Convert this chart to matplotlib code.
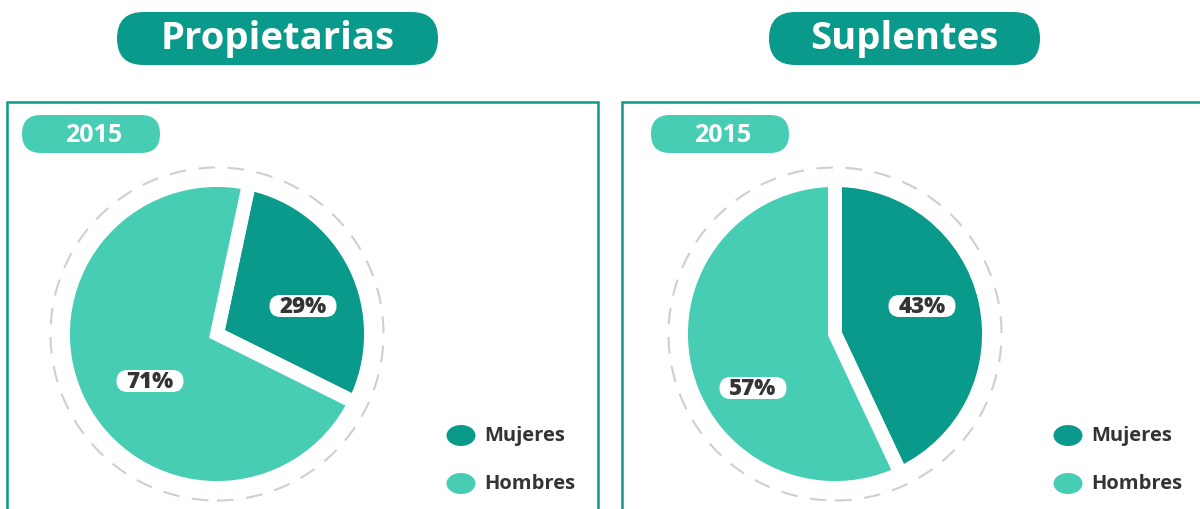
import matplotlib
matplotlib.use('Agg')
import matplotlib.pyplot as plt
from matplotlib.patches import FancyBboxPatch, Rectangle, Circle, Ellipse

categories = ['Mujeres', 'Hombres']
propietarias = [29, 71]
suplentes = [43, 57]
titles = ['Propietarias', 'Suplentes']
year = '2015'

DARK = '#0a9a8b'
LIGHT = '#47cdb3'
TEXT = '#343434'
W, H = 1200, 510

plt.rcParams['font.family'] = ['Open Sans', 'DejaVu Sans']

fig = plt.figure(figsize=(W / 100, H / 100), dpi=100)
ax = fig.add_axes([0, 0, 1, 1])


def fy(y):
    # pixel rows run downward, the axes run upward
    return H - y


def pill(x0, x1, ytop, ybot, color, z=3):
    h = ybot - ytop
    ax.add_patch(FancyBboxPatch((x0, fy(ybot)), x1 - x0, h,
                                boxstyle='round,pad=0,rounding_size=%f' % (h / 2),
                                fc=color, ec='none', zorder=z))


# per-panel layout, in pixels
panels = [
    dict(values=propietarias, title=titles[0], title_x=(117, 438), frame_x=(7, 598),
         year_x=(22, 160), center=(217, 335), start=78,
         labels=[(303, 307), (150, 382)], legend_x=461),
    dict(values=suplentes, title=titles[1], title_x=(769, 1040), frame_x=(622, 1230),
         year_x=(651, 789), center=(835, 335), start=90,
         labels=[(922, 307), (753, 389)], legend_x=1068),
]

for p in panels:
    # title pill
    x0, x1 = p['title_x']
    pill(x0, x1, 13, 66, DARK)
    ax.text((x0 + x1) / 2, fy(39.5), p['title'], color='white', fontsize=27.5,
            fontweight='bold', ha='center', va='center', zorder=4)

    # panel frame, open past the bottom edge
    fx0, fx1 = p['frame_x']
    ax.add_patch(Rectangle((fx0, -20), fx1 - fx0, fy(103) + 20, fill=False,
                           ec=DARK, lw=1.8, zorder=2))

    # year tag
    yx0, yx1 = p['year_x']
    pill(yx0, yx1, 116, 154, LIGHT)
    ax.text((yx0 + yx1) / 2 + 3, fy(135), year, color='white', fontsize=18,
            fontweight='bold', ha='center', va='center', zorder=4)

    cx, cy = p['center']
    ax.add_patch(Circle((cx, fy(cy)), 166.5, fill=False, ec='#cfcfcf', lw=1.5,
                        ls=(0, (8, 6)), zorder=2))
    ax.pie(p['values'], colors=[DARK, LIGHT], center=(cx, fy(cy)), radius=154,
           startangle=p['start'], counterclock=False, frame=True,
           wedgeprops=dict(edgecolor='white', linewidth=10, zorder=3))

    # value tags
    for v, (lx, ly) in zip(p['values'], p['labels']):
        pill(lx - 33.5, lx + 33.5, ly - 11, ly + 11, 'white', z=5)
        ax.text(lx, fy(ly), f'{v}%', color=TEXT, fontsize=16, fontweight='heavy',
                ha='center', va='center', zorder=6)

    # legend
    lx = p['legend_x']
    for cat, col, ly in zip(categories, [DARK, LIGHT], [436.5, 484.5]):
        ax.add_patch(Ellipse((lx, fy(ly)), 29, 21, fc=col, ec='none', zorder=4))
        ax.text(lx + 23, fy(ly), cat, color=TEXT, fontsize=14.5, fontweight='bold',
                ha='left', va='center', zorder=4)

ax.set_xlim(0, W)
ax.set_ylim(0, H)
ax.set_aspect('equal')
ax.axis('off')

fig.savefig('out.png', dpi=100, facecolor='white')
